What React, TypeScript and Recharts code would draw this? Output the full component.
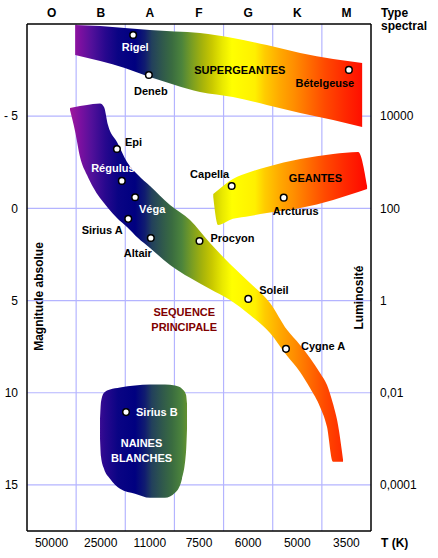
import React from 'react';
import { ComposedChart, Area, Scatter, XAxis, YAxis, Customized } from 'recharts';

// axes: spectral columns 0..7 (O..M), absolute magnitude -10..17.5
const spectralTypes = ['O', 'B', 'A', 'F', 'G', 'K', 'M'];
const temperatures = ['50000', '25000', '11000', '7500', '6000', '5000', '3500'];
const magnitudes = [-5, 0, 5, 10, 15];
const luminosities = ['10000', '100', '1', '0,01', '0,0001'];
const columnLines = [1, 2, 3, 4, 5, 6];
const xDomain = [0, 7];
const yDomain = [-10, 17.5];

// band outlines: [spectral position, upper magnitude, lower magnitude]
const supergiants = [
  [0.98, -9.95, -8.32],
  [1.49, -9.89, -7.99],
  [1.99, -9.78, -7.61],
  [2.5, -9.67, -7.12],
  [3.01, -9.59, -6.69],
  [3.52, -9.51, -6.31],
  [4.19, -9.24, -6.04],
  [4.88, -8.86, -5.61],
  [5.56, -8.43, -5.17],
  [6.23, -8.1, -4.79],
  [6.82, -7.89, -4.41],
];

const giants = [
  [3.79, -0.78, -0.62],
  [3.89, -1.0, 0.9],
  [4.19, -1.59, 0.57],
  [4.54, -1.97, 0.41],
  [4.88, -2.25, 0.25],
  [5.56, -2.68, -0.02],
  [6.23, -2.95, -0.46],
  [6.74, -3.06, -0.89],
  [6.92, -1.21, -1.05],
];

const mainSequence = [
  [0.875, -5.44, -5.34],
  [0.977, -5.5, -4.2],
  [1.079, -5.55, -2.79],
  [1.221, -5.61, -1.81],
  [1.343, -5.66, -1.16],
  [1.486, -5.69, -0.56],
  [1.567, -5.5, -0.29],
  [1.648, -4.52, -0.02],
  [1.831, -3.6, 0.52],
  [2.035, -2.52, 1.01],
  [2.259, -1.81, 1.61],
  [2.503, -1.21, 2.15],
  [2.91, -0.18, 3.07],
  [3.317, 0.63, 3.77],
  [3.724, 1.88, 4.37],
  [4.131, 3.02, 4.97],
  [4.538, 4.05, 5.78],
  [4.945, 5.13, 6.76],
  [5.291, 6.59, 8.0],
  [5.556, 7.41, 8.87],
  [5.759, 8.11, 9.74],
  [5.963, 8.93, 10.77],
  [6.105, 9.58, 11.86],
  [6.227, 10.6, 13.74],
  [6.329, 11.75, 13.74],
  [6.431, 13.64, 13.74],
];

const whiteDwarfs = [
  [1.486, 11.41, 12.49],
  [1.506, 10.49, 13.47],
  [1.567, 10.0, 14.12],
  [1.689, 9.83, 14.66],
  [1.893, 9.72, 15.21],
  [2.198, 9.61, 15.48],
  [2.503, 9.56, 15.7],
  [2.808, 9.56, 15.7],
  [3.012, 9.61, 15.43],
  [3.154, 9.78, 14.66],
  [3.236, 10.11, 13.2],
  [3.256, 10.6, 11.95],
];

const stars = [
  { name: 'Rigel', x: 2.16, y: -9.4 },
  { name: 'Deneb', x: 2.48, y: -7.23 },
  { name: 'Bételgeuse', x: 6.55, y: -7.51 },
  { name: 'Epi', x: 1.83, y: -3.22 },
  { name: 'Régulus', x: 1.93, y: -1.49 },
  { name: 'Véga', x: 2.2, y: -0.6 },
  { name: 'Sirius A', x: 2.06, y: 0.57 },
  { name: 'Altair', x: 2.52, y: 1.61 },
  { name: 'Procyon', x: 3.51, y: 1.77 },
  { name: 'Capella', x: 4.165, y: -1.21 },
  { name: 'Arcturus', x: 5.224, y: -0.58 },
  { name: 'Soleil', x: 4.503, y: 4.91 },
  { name: 'Cygne A', x: 5.27, y: 7.62 },
  { name: 'Sirius B', x: 2.015, y: 11.05 },
];

const regions = [
  { name: 'SUPERGEANTES', lines: ['SUPERGEANTES'], x: 4.33, y: -7.29 },
  { name: 'GEANTES', lines: ['GEANTES'], x: 5.87, y: -1.43 },
  { name: 'SEQUENCE', lines: ['SEQUENCE', 'PRINCIPALE'], x: 3.2, y: 5.84 },
  { name: 'NAINES', lines: ['NAINES', 'BLANCHES'], x: 2.33, y: 12.94 },
];

// colour ramp along the spectral axis
const ramp: [number, string][] = [
  [0.875, '#a0189c'],
  [1.08, '#7c10a0'],
  [1.32, '#52109a'],
  [1.59, '#28088e'],
  [1.85, '#0a0484'],
  [2.2, '#000080'],
  [2.4, '#101c70'],
  [2.54, '#22405c'],
  [2.75, '#2f584c'],
  [2.95, '#3a6c40'],
  [3.15, '#4c843c'],
  [3.36, '#7a9e22'],
  [3.56, '#a4b20c'],
  [3.76, '#c8c800'],
  [3.97, '#e8e800'],
  [4.17, '#ffff00'],
  [4.64, '#fff000'],
  [4.84, '#ffcc00'],
  [5.15, '#ffa800'],
  [5.45, '#ff8c00'],
  [5.76, '#ff6a00'],
  [6.06, '#ff4a00'],
  [6.47, '#ff2800'],
  [6.88, '#ff0a00'],
];

const labelStyle: Record<string, { dx: number; dy: number; anchor: string; color: string }> = {
  Rigel: { dx: 2, dy: 16, anchor: 'middle', color: '#fff' },
  Deneb: { dx: 2, dy: 19.5, anchor: 'middle', color: '#000' },
  'Bételgeuse': { dx: -24, dy: 17, anchor: 'middle', color: '#000' },
  Epi: { dx: 8, dy: -2.5, anchor: 'start', color: '#000' },
  'Régulus': { dx: -9, dy: -9, anchor: 'middle', color: '#fff' },
  'Véga': { dx: 17, dy: 16, anchor: 'middle', color: '#fff' },
  'Sirius A': { dx: -26, dy: 15, anchor: 'middle', color: '#000' },
  Altair: { dx: -13, dy: 18.5, anchor: 'middle', color: '#000' },
  Procyon: { dx: 11, dy: 1.5, anchor: 'start', color: '#000' },
  Capella: { dx: -22, dy: -8.5, anchor: 'middle', color: '#000' },
  Arcturus: { dx: 12, dy: 17, anchor: 'middle', color: '#000' },
  Soleil: { dx: 11, dy: -5, anchor: 'start', color: '#000' },
  'Cygne A': { dx: 15, dy: 1, anchor: 'start', color: '#000' },
  'Sirius B': { dx: 10, dy: 4, anchor: 'start', color: '#fff' },
};

const regionColor: Record<string, string> = {
  SUPERGEANTES: '#000',
  GEANTES: '#000',
  SEQUENCE: '#800000',
  NAINES: '#fff',
};

const W = 438;
const H = 558;
const PLOT = { left: 27, top: 24, right: 371, bottom: 531 };
const FONT = '"Liberation Sans", Arial, sans-serif';
const GRID = '#b4b4ff';
// half thickness of a grid line, in data units (about 1px wide)
const HALF_W = 0.012;
const HALF_H = 0.032;

const toBand = (pts: number[][]) => pts.map(([x, hi, lo]) => ({ x, range: [hi, lo] }));
const columnTicks = spectralTypes.map((_, i) => i + 0.5);

// grid lines as very thin ranged areas, so they share the bands' layer
// and are painted underneath them
const gridLines = [
  ...columnLines.map((v) => [
    { x: v - HALF_W, range: yDomain },
    { x: v + HALF_W, range: yDomain },
  ]),
  ...magnitudes.map((v) => xDomain.map((x) => ({ x, range: [v - HALF_H, v + HALF_H] }))),
];

function StarMark(props: any) {
  const { cx, cy, payload } = props;
  const s = labelStyle[payload.name];
  return (
    <g>
      <circle cx={cx} cy={cy} r={3.3} fill="#fff" stroke="#000" strokeWidth={1.5} />
      <text x={cx + s.dx} y={cy + s.dy} textAnchor={s.anchor} fill={s.color} fontSize={11} fontWeight="bold">
        {payload.name}
      </text>
    </g>
  );
}

function RegionLabel(props: any) {
  const { cx, cy, payload } = props;
  return (
    <text x={cx} y={cy} textAnchor="middle" fill={regionColor[payload.name]} fontSize={11} fontWeight="bold">
      {payload.lines.map((l: string, i: number) => (
        <tspan key={l} x={cx} dy={i === 0 ? 0 : 15}>{l}</tspan>
      ))}
    </text>
  );
}

function Titles() {
  return (
    <g fontWeight="bold" fontSize={12} fill="#000">
      <text x={381} y={16.5}>Type</text>
      <text x={381} y={29.5}>spectral</text>
      <text x={381} y={547}>T (K)</text>
      <text transform="translate(43,296.5) rotate(-90)" textAnchor="middle">Magnitude absolue</text>
      <text transform="translate(363,297.5) rotate(-90)" textAnchor="middle">Luminosité</text>
    </g>
  );
}

const axisLine = { stroke: '#000', strokeWidth: 1.5 };
const tickText = { fill: '#000', fontSize: 12 };

export default function App() {
  return (
    <div style={{ position: 'absolute', left: 0, top: 0, width: W, height: H, background: '#fff', fontFamily: FONT }}>
      <ComposedChart width={W} height={H} margin={{ top: 0, right: 0, bottom: 0, left: 0 }}>
        <defs>
          <linearGradient id="spectre" gradientUnits="userSpaceOnUse" x1={PLOT.left} x2={PLOT.right} y1={0} y2={0}>
            {ramp.map(([u, c]) => (
              <stop key={u} offset={u / 7} stopColor={c} />
            ))}
          </linearGradient>
        </defs>
        {gridLines.map((pts, i) => (
          <Area
            key={`g${i}`}
            xAxisId="bottom"
            yAxisId="left"
            data={pts}
            dataKey="range"
            type="linear"
            stroke="none"
            fill={GRID}
            fillOpacity={1}
            dot={false}
            activeDot={false}
            isAnimationActive={false}
          />
        ))}
        <XAxis
          xAxisId="top"
          orientation="top"
          type="number"
          dataKey="x"
          domain={xDomain}
          allowDataOverflow
          ticks={columnTicks}
          interval={0}
          tickFormatter={(v) => spectralTypes[Math.floor(v)]}
          height={PLOT.top}
          axisLine={axisLine}
          tickLine={false}
          tickMargin={1}
          tick={{ ...tickText, fontWeight: 'bold' }}
        />
        <XAxis
          xAxisId="bottom"
          orientation="bottom"
          type="number"
          dataKey="x"
          domain={xDomain}
          allowDataOverflow
          ticks={columnTicks}
          interval={0}
          tickFormatter={(v) => temperatures[Math.floor(v)]}
          height={H - PLOT.bottom}
          axisLine={axisLine}
          tickLine={false}
          tickMargin={1}
          tick={tickText}
        />
        <YAxis
          yAxisId="left"
          orientation="left"
          type="number"
          dataKey="y"
          domain={yDomain}
          allowDataOverflow
          reversed
          ticks={magnitudes}
          interval={0}
          tickFormatter={(v) => (v < 0 ? `- ${-v}` : `${v}`)}
          width={PLOT.left}
          axisLine={axisLine}
          tickLine={false}
          tickMargin={3}
          tick={tickText}
        />
        <YAxis
          yAxisId="right"
          orientation="right"
          type="number"
          dataKey="y"
          domain={yDomain}
          allowDataOverflow
          reversed
          ticks={magnitudes}
          interval={0}
          tickFormatter={(v) => luminosities[magnitudes.indexOf(v)]}
          width={W - PLOT.right}
          axisLine={axisLine}
          tickLine={false}
          tickMargin={3}
          tick={tickText}
        />
        {[supergiants, giants, mainSequence, whiteDwarfs].map((band, i) => (
          <Area
            key={i}
            xAxisId="bottom"
            yAxisId="left"
            data={toBand(band)}
            dataKey="range"
            type="monotone"
            stroke="none"
            fill="url(#spectre)"
            fillOpacity={1}
            dot={false}
            activeDot={false}
            isAnimationActive={false}
          />
        ))}
        <Scatter
          xAxisId="bottom"
          yAxisId="left"
          data={regions}
          shape={(p: any) => <RegionLabel {...p} />}
          isAnimationActive={false}
        />
        <Scatter
          xAxisId="bottom"
          yAxisId="left"
          data={stars}
          shape={(p: any) => <StarMark {...p} />}
          isAnimationActive={false}
        />
        <Customized component={Titles} />
      </ComposedChart>
    </div>
  );
}
